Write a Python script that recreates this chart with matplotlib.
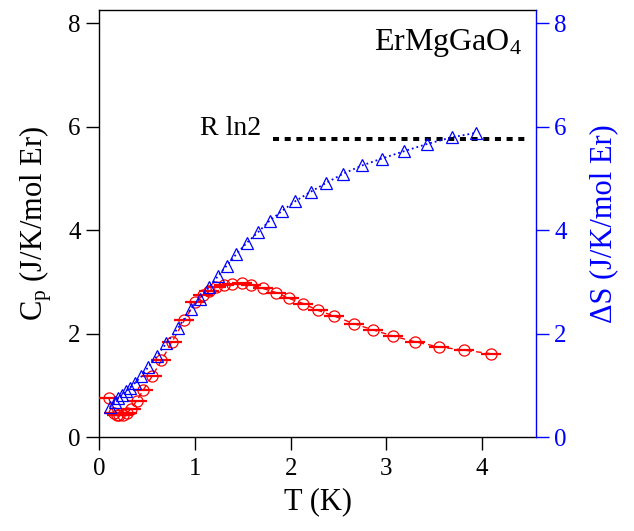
import matplotlib
matplotlib.use("Agg")
import matplotlib.pyplot as plt

plt.rcParams['font.family'] = ['Liberation Serif', 'DejaVu Serif']
plt.rcParams['mathtext.fontset'] = 'custom'
plt.rcParams['mathtext.rm'] = 'Liberation Serif'
plt.rcParams['mathtext.it'] = 'Liberation Serif:italic'

# Heat capacity (left axis)
T_cp = [0.10, 0.15, 0.18, 0.21, 0.25, 0.29, 0.33, 0.39, 0.46, 0.55, 0.65, 0.76, 0.89,
        1.00, 1.08, 1.15, 1.22, 1.30, 1.39, 1.49, 1.59, 1.71, 1.85, 1.98, 2.13, 2.28,
        2.45, 2.66, 2.86, 3.07, 3.30, 3.55, 3.81, 4.09]
Cp = [0.75, 0.47, 0.43, 0.42, 0.43, 0.47, 0.54, 0.70, 0.91, 1.17, 1.48, 1.84, 2.26,
      2.60, 2.74, 2.82, 2.89, 2.93, 2.95, 2.97, 2.93, 2.87, 2.79, 2.68, 2.58, 2.45,
      2.34, 2.19, 2.07, 1.95, 1.84, 1.74, 1.68, 1.61]

# Entropy (right axis)
T_s = [0.11, 0.16, 0.20, 0.24, 0.28, 0.32, 0.37, 0.44, 0.51, 0.60, 0.70, 0.82, 0.96,
       1.05, 1.15, 1.24, 1.33, 1.43, 1.54, 1.66, 1.78, 1.91, 2.05, 2.21, 2.37, 2.55,
       2.75, 2.95, 3.18, 3.42, 3.68, 3.94]
dS = [0.58, 0.67, 0.75, 0.82, 0.88, 0.95, 1.04, 1.17, 1.35, 1.56, 1.81, 2.10, 2.48,
      2.67, 2.90, 3.11, 3.31, 3.53, 3.75, 3.96, 4.18, 4.37, 4.56, 4.74, 4.91, 5.09,
      5.25, 5.38, 5.52, 5.66, 5.79, 5.88]

Rln2 = 5.763
Rln2_T = [1.82, 4.47]

x_ticks = [0, 1, 2, 3, 4]
y_ticks = [0, 2, 4, 6, 8]

fig = plt.figure(figsize=(6.34, 5.31), dpi=100)
ax = fig.add_axes([0.1566, 0.177, 0.6884, 0.804])
ax2 = ax.twinx()

red = '#FF0000'
blue = '#0000FF'

ax.plot(T_cp, Cp, ls=(0, (4, 3)), lw=1.0, color=red, marker='o', ms=8,
        mfc='none', mec=red, mew=0.9, zorder=3)
ax.plot(T_cp, Cp, ls='none', marker='_', ms=14, mew=1.6, color=red, zorder=3)

ax.plot(Rln2_T, [Rln2, Rln2], color='black', lw=2.9, ls=(0, (1.5, 1.4)),
        dash_capstyle='butt', zorder=2)
ax.text(1.05, 5.83, 'R ln2', fontsize=20, ha='left', va='baseline')
ax.text(4.42, 7.47, r'ErMgGaO$_4$', fontsize=23, ha='right', va='baseline')

ax2.plot(T_s, dS, ls=':', lw=1.3, color=blue, marker='^', ms=8,
         mfc='none', mec=blue, mew=0.9, zorder=4)

ax.set_xlim(0, 4.56)
ax.set_ylim(0, 8.25)
ax2.set_ylim(0, 8.25)
ax.set_xticks(x_ticks)
ax.set_yticks(y_ticks)
ax2.set_yticks(y_ticks)

ax.tick_params(axis='x', direction='out', length=9.4, width=1, labelsize=18, pad=6)
ax.tick_params(axis='y', direction='out', length=9.4, width=1, labelsize=18, pad=4)
ax2.tick_params(axis='y', direction='out', length=9.4, width=1, labelsize=18, pad=4,
                colors=blue)

for s in ['left', 'bottom', 'top']:
    ax.spines[s].set_linewidth(1)
    ax.spines[s].set_color('black')
ax.spines['right'].set_visible(False)
for s in ['left', 'bottom', 'top']:
    ax2.spines[s].set_visible(False)
ax2.spines['right'].set_color(blue)
ax2.spines['right'].set_linewidth(1)

ax.set_xlabel('T (K)', fontsize=22, labelpad=5)
ax.set_ylabel(r'C$_\mathrm{p}$ (J/K/mol Er)', fontsize=22, labelpad=10)
ax2.set_ylabel('ΔS (J/K/mol Er)', fontsize=22, color=blue, labelpad=16)

fig.savefig('out.png', dpi=100)
